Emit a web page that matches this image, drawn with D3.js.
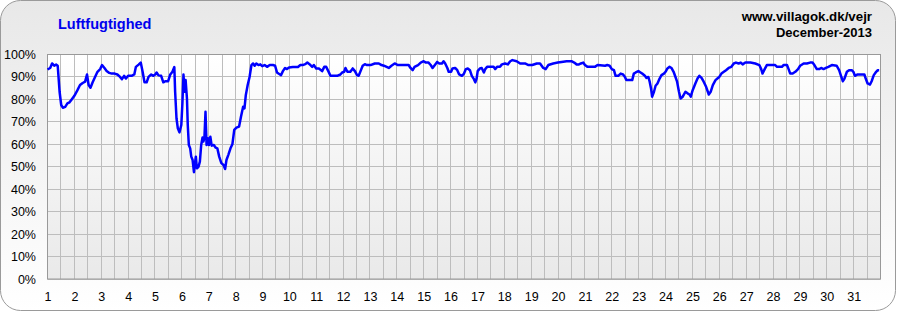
<!DOCTYPE html>
<html>
<head>
<meta charset="utf-8">
<script src="https://cdn.jsdelivr.net/npm/d3@7"></script>
<style>
  body { margin: 0; background: #fff; }
  text { font-family: "Liberation Sans", Arial, sans-serif; }
</style>
</head>
<body>
<div id="chart"></div>
<script>
var svgWidth = 897;
var svgHeight = 312;

var margin = { top: 54.5, right: 16.5, bottom: 33, left: 47.5 };

var width = svgWidth - margin.left - margin.right;
var height = svgHeight - margin.top - margin.bottom;

// chart texts
var chartTitle = "Luftfugtighed";
var siteText = "www.villagok.dk/vejr";
var monthText = "December-2013";

// ticks
var dayTicks = d3.range(1, 32);
var pctTicks = [0, 10, 20, 30, 40, 50, 60, 70, 80, 90, 100];

// time of reading, in days (1.0 = 1 December 00:00)
var dayPos = [
  1.00, 1.10, 1.17, 1.25, 1.32, 1.38, 1.45, 1.51, 1.57, 1.66, 1.74, 1.82, 1.90,
  2.00, 2.11, 2.21, 2.31, 2.40, 2.47, 2.53, 2.60, 2.68, 2.77, 2.86, 2.96,
  3.03, 3.12, 3.20, 3.30, 3.39, 3.50, 3.60, 3.70, 3.77, 3.85, 3.92,
  4.00, 4.13, 4.23, 4.29, 4.39, 4.47, 4.54, 4.61, 4.69, 4.76, 4.86, 4.94,
  5.01, 5.06, 5.13, 5.23, 5.31, 5.38, 5.49, 5.57, 5.65, 5.72, 5.75, 5.80, 5.85, 5.91, 5.98,
  6.02, 6.06, 6.10, 6.14, 6.19, 6.22, 6.26, 6.31, 6.35, 6.40, 6.45, 6.48, 6.52, 6.56,
  6.62, 6.67, 6.72, 6.77, 6.80, 6.84, 6.88, 6.92, 6.97,
  7.01, 7.06, 7.11, 7.19, 7.26, 7.32, 7.39, 7.47, 7.55, 7.61, 7.66, 7.73, 7.81, 7.88, 7.95,
  8.03, 8.13, 8.20, 8.28, 8.33, 8.38, 8.45, 8.52, 8.59, 8.65, 8.71, 8.77, 8.85, 8.92, 8.99,
  9.08, 9.17, 9.27, 9.39, 9.47, 9.54, 9.61, 9.69, 9.76, 9.84, 9.91, 9.99,
  10.13, 10.32, 10.41, 10.50, 10.59, 10.67, 10.75, 10.85, 10.91,
  11.00, 11.10, 11.22, 11.30, 11.37, 11.45, 11.53, 11.62, 11.78, 11.90, 11.97,
  12.04, 12.09, 12.16, 12.27, 12.36, 12.44, 12.52, 12.58, 12.65, 12.73, 12.81, 12.89,
  13.02, 13.18, 13.33, 13.43, 13.52, 13.70, 13.80, 13.92,
  14.04, 14.25, 14.44, 14.51, 14.59, 14.66, 14.79, 14.89,
  15.00, 15.08, 15.18, 15.26, 15.33, 15.43, 15.50, 15.58, 15.68, 15.74, 15.80, 15.88, 15.93,
  16.02, 16.07, 16.17, 16.25, 16.32, 16.42, 16.50, 16.57, 16.64, 16.72, 16.79, 16.87, 16.92, 16.97,
  17.01, 17.09, 17.16, 17.24, 17.29, 17.36, 17.60, 17.66, 17.73, 17.84, 17.91,
  18.03, 18.13, 18.22, 18.30, 18.46, 18.59, 18.77, 18.90,
  19.04, 19.21, 19.33, 19.45, 19.54, 19.64, 19.82, 19.99,
  20.13, 20.32, 20.50, 20.60, 20.69, 20.78, 20.85, 20.94,
  21.00, 21.10, 21.37, 21.47, 21.75, 21.83, 21.92,
  22.00, 22.08, 22.14, 22.24, 22.33, 22.42, 22.49, 22.54, 22.76, 22.82, 22.89, 22.99,
  23.07, 23.13, 23.23, 23.29, 23.36, 23.41, 23.46, 23.50, 23.57, 23.63, 23.70, 23.78, 23.85, 23.94,
  24.00, 24.07, 24.15, 24.22, 24.30, 24.37, 24.43, 24.50, 24.56, 24.64, 24.74, 24.82, 24.89, 24.94,
  25.01, 25.11, 25.19, 25.26, 25.34, 25.42, 25.51, 25.61, 25.68, 25.76, 25.86, 25.93,
  26.00, 26.08, 26.17, 26.25, 26.35, 26.45, 26.54, 26.62, 26.72, 26.80, 26.87, 26.97,
  27.16, 27.34, 27.49, 27.56, 27.61, 27.69, 27.77,
  28.08, 28.15, 28.33, 28.39, 28.52, 28.58, 28.64, 28.73, 28.83, 28.93,
  29.01, 29.14, 29.26, 29.38, 29.47, 29.54, 29.63, 29.72, 29.79, 29.88, 29.97,
  30.06, 30.19, 30.37, 30.46, 30.53, 30.60, 30.66, 30.75, 30.83, 30.93, 30.99,
  31.05, 31.15, 31.40, 31.45, 31.52, 31.61, 31.67, 31.75, 31.82, 31.90, 31.95
];

// relative humidity (%)
var humidity = [
  93.3, 94, 96, 95, 95.5, 95, 83.4, 77.5, 76.3, 76.7, 78.2, 78.7, 80,
  81.6, 84, 86.4, 87.3, 87.9, 91.1, 86.4, 85.2, 87.6, 90, 92.3, 93.5,
  95.3, 94, 92.7, 91.8, 91.5, 91.5, 91.1, 90, 89, 90.5, 89.3,
  90.5, 90.5, 91.1, 94.5, 95.5, 96.4, 92.3, 87.6, 87.6, 90, 91.1, 90.5,
  91.1, 92, 90.7, 90.5, 87.6, 88.1, 88.1, 91.1, 92.3, 94.4, 83.4, 71.6, 67.1, 65.3, 68.6,
  78.2, 91.1, 83.4, 88.6, 80.4, 68.6, 59.7, 58.2, 54.5, 53, 47.6, 50.8, 54.5, 49.3,
  50, 52.3, 59.7, 63, 61.2, 63, 74.5, 59.7, 62.7,
  59.7, 63.4, 59.4, 59.7, 58.5, 58.2, 54.5, 51.6, 50.8, 49, 53, 55.3, 58.2, 60, 66.4,
  67.4, 67.9, 72.3, 76.7, 76, 81.9, 86.4, 90, 95.3, 96, 95, 96, 95.3, 95.6, 94.8,
  95.3, 94.5, 95.3, 95.3, 95, 92, 91.4, 90.8, 92.6, 94, 93.5, 94.2,
  94.4, 94.4, 95.3, 95.3, 95.7, 96.4, 95.7, 94.5, 95.3,
  93.8, 93.8, 92.6, 94.5, 94.5, 92.6, 90.5, 90.5, 90.5, 91.1, 92,
  92.3, 94, 92.3, 92.3, 93.8, 92.6, 90.8, 90.5, 92.6, 95, 95.7, 95.3,
  95.3, 96, 96, 95.3, 95, 94, 95, 96,
  95.3, 95.3, 95.3, 94, 93, 94.5, 95.3, 96.4,
  97, 96.4, 96.4, 95.3, 94, 95.6, 96.7, 96, 96, 97, 96, 94, 92.3,
  92.3, 93.8, 94, 93, 91.1, 90.5, 91.5, 93.5, 93.8, 93, 90.5, 89, 87.6, 89.3,
  92.6, 93.8, 94, 92, 93.5, 94.5, 94.5, 93.5, 94.5, 94.5, 95.6,
  96, 95.6, 97, 97.5, 97, 96, 96, 95.3,
  95.3, 96, 96, 94, 93.5, 95.3, 96, 96.4,
  96.7, 97, 97, 96.4, 95.6, 95.6, 96, 96.4,
  95.3, 94.5, 94.5, 95.3, 95, 95.3, 95,
  93.5, 93, 90.5, 90.5, 91.5, 91.1, 90, 88.6, 88.6, 91.5, 92, 92.6,
  92, 91.5, 90.5, 89.6, 90, 87.9, 84.9, 81.2, 83.4, 86.1, 87.1, 89.3, 90.8, 91.5,
  92.3, 93.8, 94.5, 94, 92.3, 90, 87.9, 83.4, 80.4, 81.2, 83.4, 82.7, 82.2, 81.2,
  84.1, 87.1, 89.3, 90.5, 89.6, 87.9, 85.6, 82.2, 83.4, 86.4, 88.6, 89.3,
  90, 91.5, 92.3, 93, 94, 94.5, 96, 96.4, 96, 96.4, 95.6, 96.4,
  96.4, 96, 95.3, 93.5, 91.5, 93.5, 95.3,
  95.3, 94.5, 94.5, 95.3, 95.3, 93.5, 91.5, 91.5, 92.3, 93.5,
  95, 96, 96, 96.4, 96.4, 95.3, 93.5, 93.5, 94, 93.5, 94,
  94.5, 95.3, 95, 93, 90.5, 88.1, 89.3, 92.3, 93, 93, 92.3,
  90.5, 91.1, 91.1, 89.3, 87.1, 86.6, 88.1, 90.8, 92, 93, 93
];

var readings = dayPos.map(function (d, i) {
    return { day: d, value: humidity[i] };
});

/********************************************************/

var svg = d3.select("#chart")
    .append("svg")
    .attr("width", svgWidth)
    .attr("height", svgHeight);

var defs = svg.append("defs");

var panelGrad = defs.append("linearGradient")
    .attr("id", "panelGrad")
    .attr("x1", 0).attr("y1", 0).attr("x2", 0).attr("y2", 1);
panelGrad.append("stop").attr("offset", "0%").attr("stop-color", "#e8e8e8");
panelGrad.append("stop").attr("offset", "100%").attr("stop-color", "#ffffff");

var plotGrad = defs.append("linearGradient")
    .attr("id", "plotGrad")
    .attr("x1", 0).attr("y1", 0).attr("x2", 0).attr("y2", 1);
plotGrad.append("stop").attr("offset", "0%").attr("stop-color", "#ffffff");
plotGrad.append("stop").attr("offset", "100%").attr("stop-color", "#e9e9e9");

svg.append("rect")
    .attr("x", 0.5)
    .attr("y", 0.5)
    .attr("width", svgWidth - 2)
    .attr("height", svgHeight - 2)
    .attr("rx", 20)
    .attr("ry", 20)
    .attr("fill", "url(#panelGrad)")
    .attr("stroke", "#9a9a9a");

var chartGroup = svg.append("g")
    .attr("transform", `translate(${margin.left}, ${margin.top})`);

/********************************************************/

var xLinearScale = d3.scaleLinear()
    .domain([1, 32])
    .range([0, width]);

var yLinearScale = d3.scaleLinear()
    .domain([0, 100])
    .range([height, 0]);

chartGroup.append("rect")
    .attr("width", width)
    .attr("height", height)
    .attr("fill", "url(#plotGrad)");

// grid: vertical every 12 hours, horizontal every 10%
chartGroup.append("g")
    .selectAll("line")
    .data(d3.range(1, 32, 0.5))
    .enter()
    .append("line")
    .attr("x1", d => Math.round(xLinearScale(d)))
    .attr("x2", d => Math.round(xLinearScale(d)))
    .attr("y1", 0)
    .attr("y2", height)
    .attr("stroke", "#bdbdbd");

chartGroup.append("g")
    .selectAll("line")
    .data(pctTicks)
    .enter()
    .append("line")
    .attr("x1", 0)
    .attr("x2", width)
    .attr("y1", d => Math.round(yLinearScale(d)))
    .attr("y2", d => Math.round(yLinearScale(d)))
    .attr("stroke", "#bdbdbd");

chartGroup.append("rect")
    .attr("width", width)
    .attr("height", height)
    .attr("fill", "none")
    .attr("stroke", "#999999");

/********************************************************/

var bottomAxis = d3.axisBottom(xLinearScale)
    .tickValues(dayTicks)
    .tickSize(0)
    .tickPadding(13)
    .tickFormat(d3.format("d"));

var leftAxis = d3.axisLeft(yLinearScale)
    .tickValues(pctTicks)
    .tickSize(0)
    .tickPadding(11.5)
    .tickFormat(d => d + "%");

var xAxisG = chartGroup.append("g")
    .attr("transform", `translate(0, ${height})`)
    .call(bottomAxis);

var yAxisG = chartGroup.append("g")
    .call(leftAxis);

[xAxisG, yAxisG].forEach(function (g) {
    g.select(".domain").remove();
    g.selectAll("text")
        .attr("font-family", "'Liberation Sans', Arial, sans-serif")
        .attr("font-size", 12.5)
        .attr("fill", "#000");
});

/********************************************************/

var humidityLine = d3.line()
    .x(d => xLinearScale(d.day))
    .y(d => yLinearScale(d.value));

chartGroup.append("path")
    .datum(readings)
    .attr("d", humidityLine)
    .attr("fill", "none")
    .attr("stroke", "#0000ff")
    .attr("stroke-width", 2.5)
    .attr("stroke-linejoin", "round");

/********************************************************/

svg.append("text")
    .attr("x", 58)
    .attr("y", 29)
    .attr("font-size", 14.5)
    .attr("font-weight", "bold")
    .attr("fill", "#0000ee")
    .text(chartTitle);

svg.append("text")
    .attr("x", 872)
    .attr("y", 21)
    .attr("text-anchor", "end")
    .attr("font-size", 13.3)
    .attr("font-weight", "bold")
    .text(siteText);

svg.append("text")
    .attr("x", 872)
    .attr("y", 37)
    .attr("text-anchor", "end")
    .attr("font-size", 13)
    .attr("font-weight", "bold")
    .text(monthText);
</script>
</body>
</html>
